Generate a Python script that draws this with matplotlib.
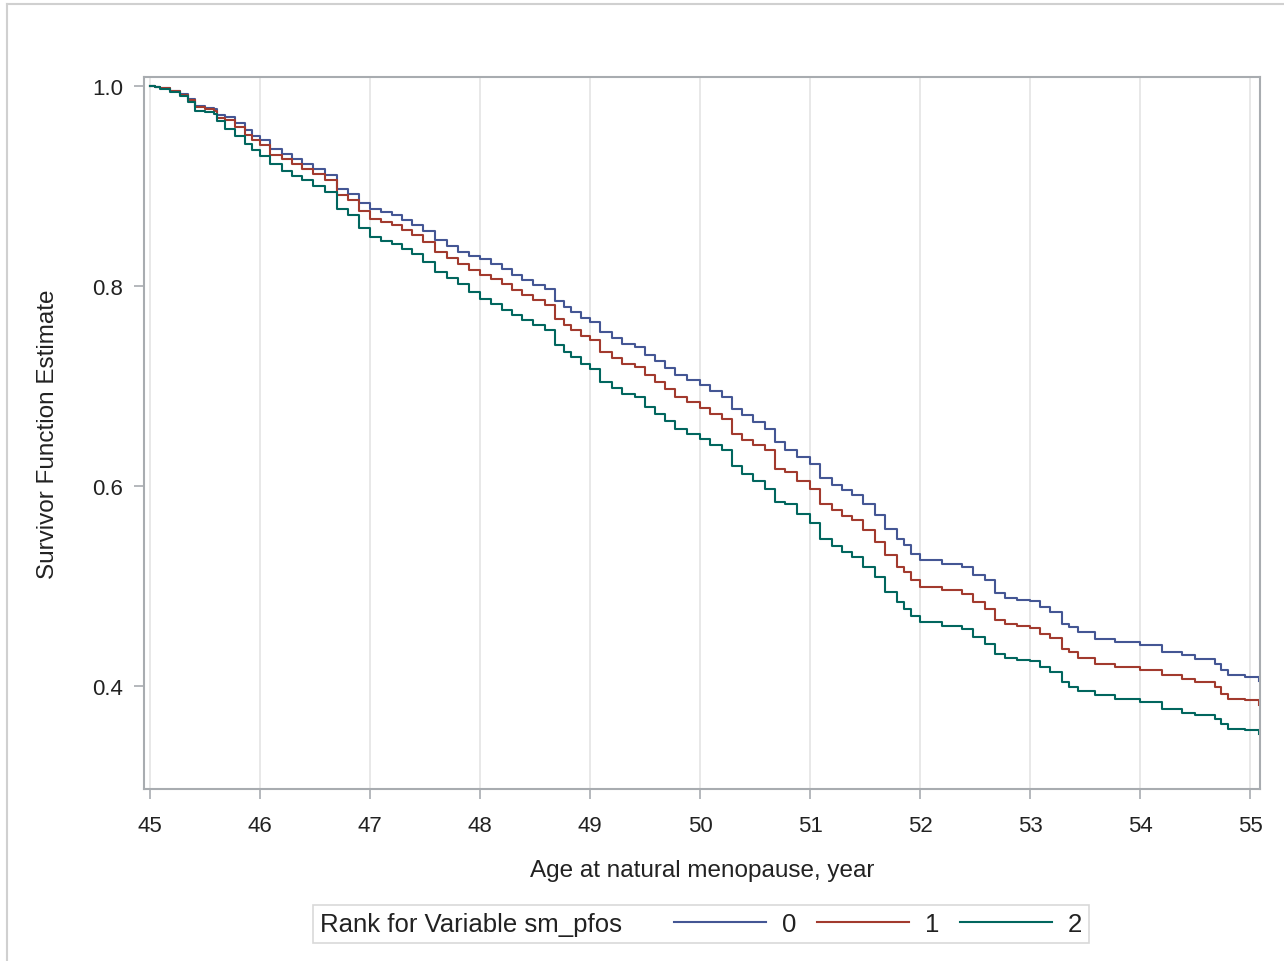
import matplotlib
matplotlib.use("Agg")
import matplotlib.pyplot as plt
from matplotlib.lines import Line2D
from matplotlib.offsetbox import HPacker

# step times (years) shared by the three adjusted survivor curves
ages = [45.00, 45.05, 45.09, 45.18, 45.27, 45.35, 45.41, 45.50, 45.58, 45.61,
        45.68, 45.77, 45.86, 45.93, 46.00, 46.09, 46.20, 46.29, 46.38, 46.48,
        46.59, 46.70, 46.80, 46.90, 47.00, 47.10, 47.20, 47.29, 47.38, 47.48,
        47.59, 47.70, 47.80, 47.90, 48.00, 48.10, 48.20, 48.29, 48.38, 48.48,
        48.59, 48.68, 48.76, 48.83, 48.92, 49.00, 49.09, 49.20, 49.29, 49.41,
        49.50, 49.59, 49.68, 49.77, 49.88, 50.00, 50.09, 50.20, 50.29, 50.38,
        50.48, 50.59, 50.68, 50.77, 50.88, 51.00, 51.09, 51.20, 51.29, 51.38,
        51.48, 51.59, 51.68, 51.79, 51.85, 51.92, 52.00, 52.20, 52.38, 52.48,
        52.59, 52.68, 52.77, 52.88, 53.00, 53.09, 53.18, 53.29, 53.35, 53.44,
        53.59, 53.77, 54.00, 54.20, 54.38, 54.50, 54.68, 54.74, 54.80, 54.95,
        55.08]

surv_0 = [1.000, 0.999, 0.998, 0.995, 0.992, 0.987, 0.980, 0.978, 0.977, 0.971,
          0.969, 0.963, 0.956, 0.950, 0.946, 0.937, 0.932, 0.927, 0.922, 0.917,
          0.911, 0.897, 0.892, 0.883, 0.877, 0.874, 0.871, 0.866, 0.861, 0.855,
          0.846, 0.840, 0.834, 0.830, 0.827, 0.822, 0.817, 0.811, 0.806, 0.801,
          0.797, 0.785, 0.779, 0.774, 0.768, 0.764, 0.754, 0.748, 0.742, 0.739,
          0.731, 0.725, 0.718, 0.711, 0.706, 0.701, 0.695, 0.689, 0.677, 0.671,
          0.664, 0.657, 0.644, 0.636, 0.629, 0.622, 0.608, 0.601, 0.596, 0.591,
          0.582, 0.571, 0.557, 0.547, 0.541, 0.532, 0.526, 0.522, 0.519, 0.511,
          0.506, 0.493, 0.488, 0.486, 0.485, 0.479, 0.474, 0.462, 0.459, 0.454,
          0.447, 0.444, 0.441, 0.434, 0.431, 0.427, 0.422, 0.416, 0.411, 0.409,
          0.405]

surv_1 = [1.000, 0.999, 0.998, 0.995, 0.991, 0.986, 0.979, 0.977, 0.975, 0.968,
          0.966, 0.959, 0.951, 0.946, 0.941, 0.931, 0.927, 0.922, 0.917, 0.912,
          0.906, 0.891, 0.886, 0.875, 0.867, 0.864, 0.861, 0.856, 0.851, 0.844,
          0.834, 0.828, 0.822, 0.816, 0.811, 0.807, 0.802, 0.796, 0.791, 0.786,
          0.781, 0.767, 0.761, 0.756, 0.750, 0.746, 0.734, 0.728, 0.722, 0.719,
          0.711, 0.704, 0.697, 0.689, 0.684, 0.678, 0.672, 0.667, 0.652, 0.646,
          0.641, 0.636, 0.617, 0.614, 0.605, 0.597, 0.582, 0.576, 0.570, 0.566,
          0.556, 0.544, 0.531, 0.519, 0.514, 0.506, 0.499, 0.496, 0.492, 0.484,
          0.477, 0.466, 0.462, 0.460, 0.458, 0.452, 0.448, 0.437, 0.434, 0.428,
          0.422, 0.419, 0.416, 0.411, 0.407, 0.404, 0.399, 0.392, 0.387, 0.386,
          0.381]

surv_2 = [1.000, 0.999, 0.997, 0.994, 0.990, 0.984, 0.975, 0.974, 0.972, 0.965,
          0.957, 0.950, 0.942, 0.936, 0.930, 0.922, 0.915, 0.910, 0.906, 0.900,
          0.894, 0.877, 0.871, 0.858, 0.849, 0.845, 0.842, 0.837, 0.832, 0.824,
          0.814, 0.808, 0.802, 0.794, 0.787, 0.782, 0.776, 0.771, 0.766, 0.761,
          0.756, 0.741, 0.734, 0.729, 0.722, 0.717, 0.704, 0.698, 0.692, 0.689,
          0.679, 0.672, 0.665, 0.657, 0.652, 0.647, 0.641, 0.636, 0.620, 0.612,
          0.605, 0.597, 0.584, 0.582, 0.572, 0.563, 0.547, 0.540, 0.534, 0.529,
          0.519, 0.509, 0.494, 0.484, 0.477, 0.470, 0.464, 0.460, 0.457, 0.449,
          0.442, 0.432, 0.428, 0.426, 0.425, 0.419, 0.414, 0.404, 0.399, 0.395,
          0.391, 0.387, 0.384, 0.377, 0.373, 0.371, 0.367, 0.362, 0.357, 0.356,
          0.352]

ranks = ["0", "1", "2"]
colors = ["#445694", "#A23A2E", "#01665E"]

plt.rcParams['font.family'] = ['Liberation Sans', 'DejaVu Sans']
tick_fs, lab_fs, leg_fs = 16, 17.5, 18.5

fig = plt.figure(figsize=(12.84, 9.62), dpi=100)
ax = fig.add_axes([0.1121, 0.1788, 0.8692, 0.7401])

for s, c, lab in zip([surv_0, surv_1, surv_2], colors, ranks):
    ax.plot(ages, s, drawstyle='steps-post', color=c, lw=1.5, label=lab)

ax.set_xlim(44.945, 55.09)
ax.set_ylim(0.2973, 1.0093)
ax.set_xticks(range(45, 56))
ax.set_yticks([0.4, 0.6, 0.8, 1.0])
ax.set_yticklabels(["0.4", "0.6", "0.8", "1.0"])
ax.grid(axis='x', color='#e4e4e4', lw=1.2)
ax.set_axisbelow(True)

for sp in ax.spines.values():
    sp.set_color('#a8acb0')
    sp.set_linewidth(1.5)
ax.tick_params(colors='#a8acb0', labelcolor='#222222', labelsize=tick_fs,
               length=7, width=1.2)
ax.tick_params(axis='x', pad=12)
ax.tick_params(axis='y', pad=8)

ax.set_xlabel("Age at natural menopause, year", fontsize=lab_fs, color='#222222', labelpad=16)
ax.set_ylabel("Survivor Function Estimate", fontsize=lab_fs, color='#222222', labelpad=24)

# legend with the title on the same row as the entries
handles, labels = ax.get_legend_handles_labels()
leg = fig.legend(handles, labels, ncol=3, title="Rank for Variable sm_pfos",
                 fontsize=leg_fs, title_fontsize=leg_fs, loc='center',
                 bbox_to_anchor=(701 / 1284, 1 - 925 / 962),
                 frameon=True, fancybox=False, edgecolor='#cfcfcf',
                 borderpad=0.2, handlelength=3.6, handletextpad=0.6,
                 columnspacing=0.8)
leg.get_frame().set_linewidth(1.2)
for t in leg.get_texts():
    t.set_color('#222222')
leg.get_title().set_color('#222222')
fs = leg_fs * 100 / 72
leg._legend_box = HPacker(pad=0.2 * fs, sep=1.45 * fs, align='center',
                          children=[leg._legend_title_box, leg._legend_handle_box])
leg._legend_box.set_figure(fig)
leg._set_loc(leg._loc)

# outer border (top and left edges visible)
fig.add_artist(Line2D([7 / 1284, 7 / 1284], [0, 1 - 5 / 962], transform=fig.transFigure,
                      color='#d0d0d0', lw=1.5))
fig.add_artist(Line2D([7 / 1284, 1], [1 - 5 / 962, 1 - 5 / 962], transform=fig.transFigure,
                      color='#d0d0d0', lw=1.5))

fig.savefig("out.png", dpi=100)
